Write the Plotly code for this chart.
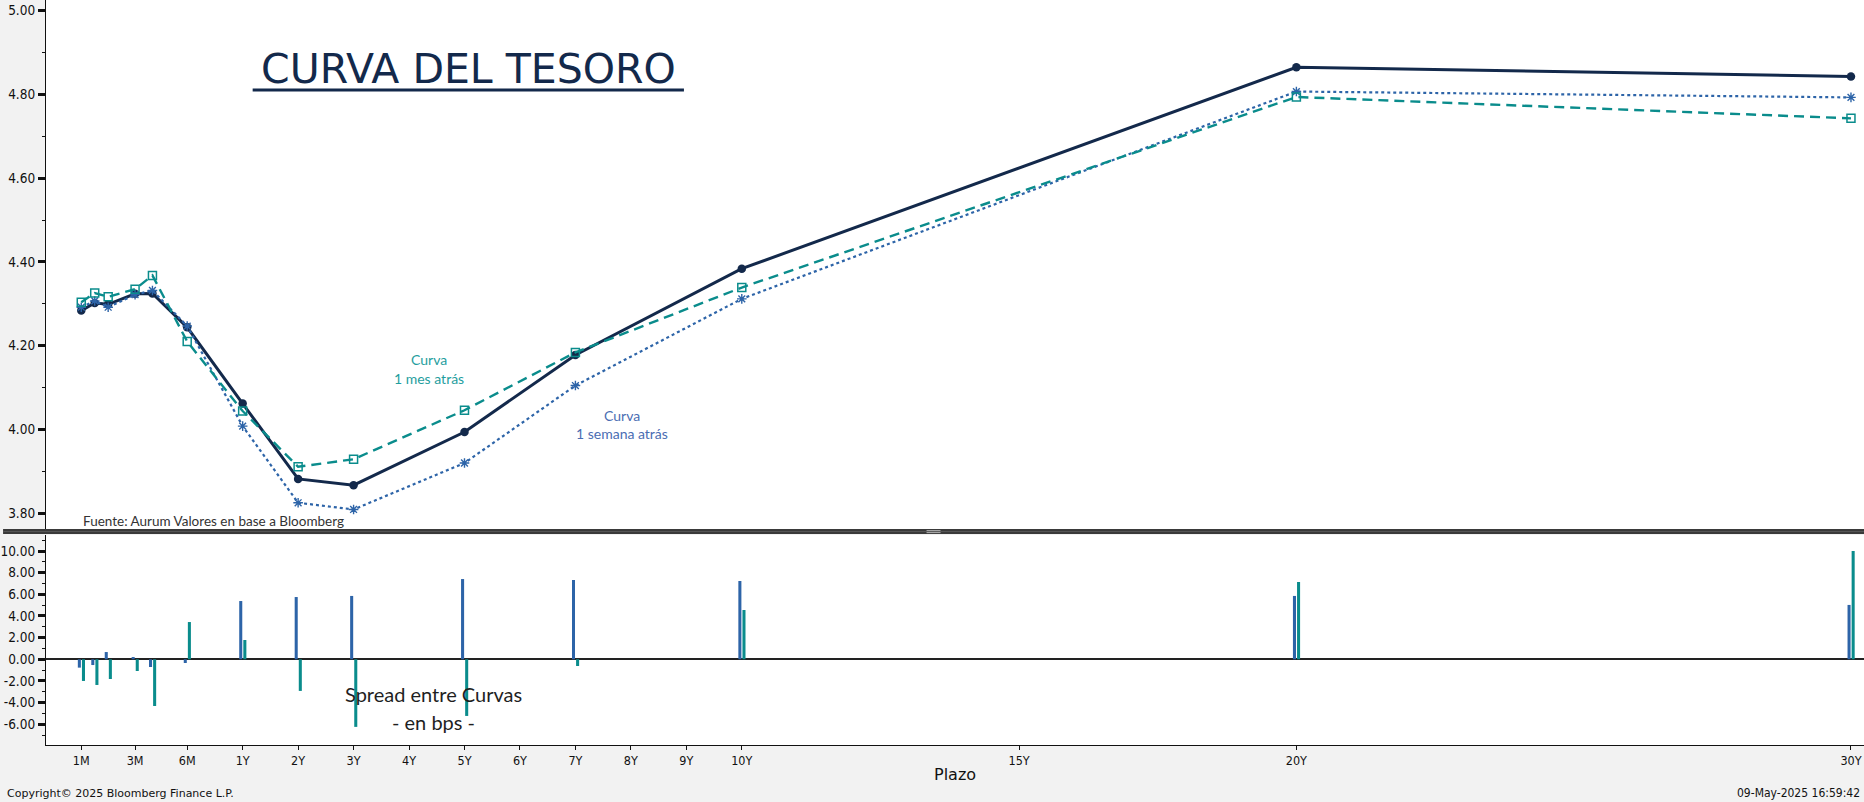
import numpy as np
import plotly.graph_objects as go

# ---------------- data ----------------
tenor_labels = ["1M", "1.5M", "2M", "3M", "4M", "6M", "1Y", "2Y", "3Y", "5Y", "7Y", "10Y", "20Y", "30Y"]
tenor_years = [1/12, 1.5/12, 2/12, 3/12, 4/12, 6/12, 1, 2, 3, 5, 7, 10, 20, 30]

curva_actual = [4.284, 4.302, 4.299, 4.324, 4.325, 4.244, 4.062, 3.882, 3.867, 3.994, 4.178, 4.384, 4.865, 4.843]
curva_1_semana = [4.292, 4.307, 4.292, 4.322, 4.332, 4.247, 4.008, 3.825, 3.809, 3.920, 4.105, 4.312, 4.807, 4.793]
curva_1_mes = [4.304, 4.326, 4.317, 4.335, 4.368, 4.210, 4.044, 3.911, 3.929, 4.046, 4.184, 4.339, 4.794, 4.743]

spread_1_semana = [-0.77, -0.53, 0.67, 0.21, -0.71, -0.34, 5.38, 5.75, 5.85, 7.41, 7.32, 7.23, 5.85, 5.02]
spread_1_mes = [-2.00, -2.37, -1.82, -1.08, -4.31, 3.44, 1.78, -2.92, -6.24, -5.23, -0.62, 4.55, 7.14, 10.00]

xtick_labels = ["1M", "3M", "6M", "1Y", "2Y", "3Y", "4Y", "5Y", "6Y", "7Y", "8Y", "9Y", "10Y", "15Y", "20Y", "30Y"]
xtick_years = [1/12, 3/12, 6/12, 1, 2, 3, 4, 5, 6, 7, 8, 9, 10, 15, 20, 30]

ytop_ticks = [3.8, 4.0, 4.2, 4.4, 4.6, 4.8, 5.0]
ybot_ticks = [-6, -4, -2, 0, 2, 4, 6, 8, 10]
ybot_labels = ["-6.00", "-4.00", "-2.00", "0.00", "2.00", "4.00", "6.00", "8.00", "10.00"]

# ---------------- axis scale (Bloomberg-like stretched short end) ----------------
_knot_years = [1/12, 3/12, 6/12, 1, 30]
_knot_pos = [-1.91, -0.94, 0.0, 1, 30]


def axis_pos(years):
    return np.interp(np.asarray(years, dtype=float), _knot_years, _knot_pos)


x_pos = axis_pos(tenor_years)
xtick_pos = axis_pos(xtick_years)

NAVY = "#13294b"
BLUE = "#2d64a8"
TEAL = "#0a8c8c"

W, H = 1864, 802
L, B = 43, 57
PH = H - B  # plot area height in px (745)
PW = W - L


def px(xp):
    return (xp - L) / PW


def py(yp):
    return 1 - yp / PH


fig = go.Figure()

fig.add_trace(go.Scatter(
    x=x_pos, y=curva_actual, mode="lines+markers", name="Curva actual",
    line=dict(color=NAVY, width=3),
    marker=dict(symbol="circle", size=8.5, color=NAVY),
    xaxis="x", yaxis="y", hoverinfo="skip"))
fig.add_trace(go.Scatter(
    x=x_pos, y=curva_1_semana, mode="lines+markers", name="Curva 1 semana atrás",
    line=dict(color=BLUE, width=2.2, dash="dot"),
    marker=dict(symbol="asterisk-open", size=8, line=dict(color=BLUE, width=1.4)),
    xaxis="x", yaxis="y", hoverinfo="skip"))
fig.add_trace(go.Scatter(
    x=x_pos, y=curva_1_mes, mode="lines+markers", name="Curva 1 mes atrás",
    line=dict(color=TEAL, width=2.4, dash="10px,6px"),
    marker=dict(symbol="square-open", size=8, color=TEAL, line=dict(color=TEAL, width=1.5)),
    xaxis="x", yaxis="y", hoverinfo="skip"))

fig.add_trace(go.Bar(
    x=x_pos, y=spread_1_semana, name="Spread 1 semana",
    marker=dict(color=BLUE, line=dict(width=0)),
    width=0.055, offset=-0.062,
    xaxis="x2", yaxis="y2", hoverinfo="skip"))
fig.add_trace(go.Bar(
    x=x_pos, y=spread_1_mes, name="Spread 1 mes",
    marker=dict(color=TEAL, line=dict(width=0)),
    width=0.055, offset=0.012,
    xaxis="x2", yaxis="y2", hoverinfo="skip"))

COND = "DejaVu Sans Condensed, Liberation Sans Narrow, DejaVu Sans"
tick_font = dict(family=COND, size=13.5, color="#111111")
xrange = [-2.546, 30.235]

fig.update_layout(
    width=W, height=H,
    margin=dict(l=L, r=0, t=0, b=B),
    paper_bgcolor="#f2f2f2",
    plot_bgcolor="white",
    showlegend=False,
    barmode="overlay",
    xaxis=dict(domain=[0, 1], anchor="y", range=xrange, showticklabels=False,
               showline=False, showgrid=False, zeroline=False, ticks=""),
    yaxis=dict(domain=[(PH - 529) / PH, 1], anchor="x", range=[3.7624, 5.0256],
               tickvals=ytop_ticks, tickformat=".2f", ticks="outside", ticklen=7, tickwidth=2.5,
               tickcolor="#111111", showline=True, linecolor="#111111", linewidth=1.2,
               showgrid=False, zeroline=False, tickfont=tick_font,
               minor=dict(dtick=0.1, tick0=3.8, ticks="outside", ticklen=3, tickwidth=1, tickcolor="#111111")),
    xaxis2=dict(domain=[0, 1], anchor="y2", matches="x", range=xrange,
                tickvals=xtick_pos, ticktext=xtick_labels, ticks="outside", ticklen=4,
                tickcolor="#111111", showline=True, linecolor="#111111", linewidth=1.2,
                showgrid=False, zeroline=False,
                tickfont=dict(family=COND, size=12.5, color="#111111")),
    yaxis2=dict(domain=[0, (PH - 535) / PH], anchor="x2", range=[-7.913, 11.477],
                tickvals=ybot_ticks, ticktext=ybot_labels, ticks="outside", ticklen=7, tickwidth=2.5,
                tickcolor="#111111", showline=True, linecolor="#111111", linewidth=1.2,
                showgrid=False, zeroline=True, zerolinecolor="#222222", zerolinewidth=1.5,
                tickfont=tick_font,
                minor=dict(dtick=1, tick0=0, ticks="outside", ticklen=3, tickwidth=1, tickcolor="#111111")),
)

shapes = [
    # divider band between panels
    dict(type="rect", xref="paper", yref="paper", x0=px(0), x1=1, y0=py(534), y1=py(529),
         fillcolor="#3a3a3a", line=dict(width=0), layer="above"),
    dict(type="line", xref="paper", yref="paper", x0=px(0), x1=1, y0=py(531.5), y1=py(531.5),
         line=dict(color="#555555", width=1), layer="above"),
    # grip
    dict(type="line", xref="paper", yref="paper", x0=px(925), x1=px(939), y0=py(530.6), y1=py(530.6),
         line=dict(color="#b0b0b0", width=1), layer="above"),
    dict(type="line", xref="paper", yref="paper", x0=px(925), x1=px(939), y0=py(532.6), y1=py(532.6),
         line=dict(color="#b0b0b0", width=1), layer="above"),
    # title underline
    dict(type="line", xref="paper", yref="paper", x0=px(250), x1=px(682), y0=py(90), y1=py(90),
         line=dict(color=NAVY, width=3)),
]
fig.update_layout(shapes=shapes)

ROUND = "Lato, Open Sans, sans-serif"
annotations = [
    dict(text="CURVA DEL TESORO", x=px(466), y=py(69), xanchor="center", yanchor="middle",
         font=dict(family="DejaVu Sans", size=41, color=NAVY)),
    dict(text="Fuente: Aurum Valores en base a Bloomberg", x=px(78), y=py(521), xanchor="left", yanchor="middle",
         font=dict(family=ROUND, size=13.5, color="#333333")),
    dict(text="Curva", x=px(427), y=py(359), xanchor="center", yanchor="middle",
         font=dict(family=ROUND, size=14, color="#1f9e9e")),
    dict(text="1 mes atrás", x=px(427), y=py(378), xanchor="center", yanchor="middle",
         font=dict(family=ROUND, size=14, color="#1f9e9e")),
    dict(text="Curva", x=px(620), y=py(415), xanchor="center", yanchor="middle",
         font=dict(family=ROUND, size=14, color="#4a6db3")),
    dict(text="1 semana atrás", x=px(620), y=py(434), xanchor="center", yanchor="middle",
         font=dict(family=ROUND, size=14, color="#4a6db3")),
    dict(text="Spread entre Curvas", x=px(431), y=py(694), xanchor="center", yanchor="middle",
         font=dict(family=ROUND, size=20, color="#1f1f1f")),
    dict(text="- en bps -", x=px(431), y=py(722), xanchor="center", yanchor="middle",
         font=dict(family=ROUND, size=20, color="#1f1f1f")),
    dict(text="Plazo", x=px(954), y=py(774), xanchor="center", yanchor="middle",
         font=dict(family="DejaVu Sans", size=16, color="#111111")),
    dict(text="Copyright© 2025 Bloomberg Finance L.P.", x=px(2), y=py(793), xanchor="left", yanchor="middle",
         font=dict(family="DejaVu Sans", size=11, color="#111111")),
    dict(text="09-May-2025 16:59:42", x=px(1862), y=py(793), xanchor="right", yanchor="middle",
         font=dict(family=COND, size=12, color="#111111")),
]
for a in annotations:
    a.update(xref="paper", yref="paper", showarrow=False)
fig.update_layout(annotations=annotations)

fig.write_html(
    "out.html",
    config={"displayModeBar": False},
    post_script="document.body.style.margin='0';document.body.style.padding='0';"
                "document.body.style.overflow='hidden';",
)
